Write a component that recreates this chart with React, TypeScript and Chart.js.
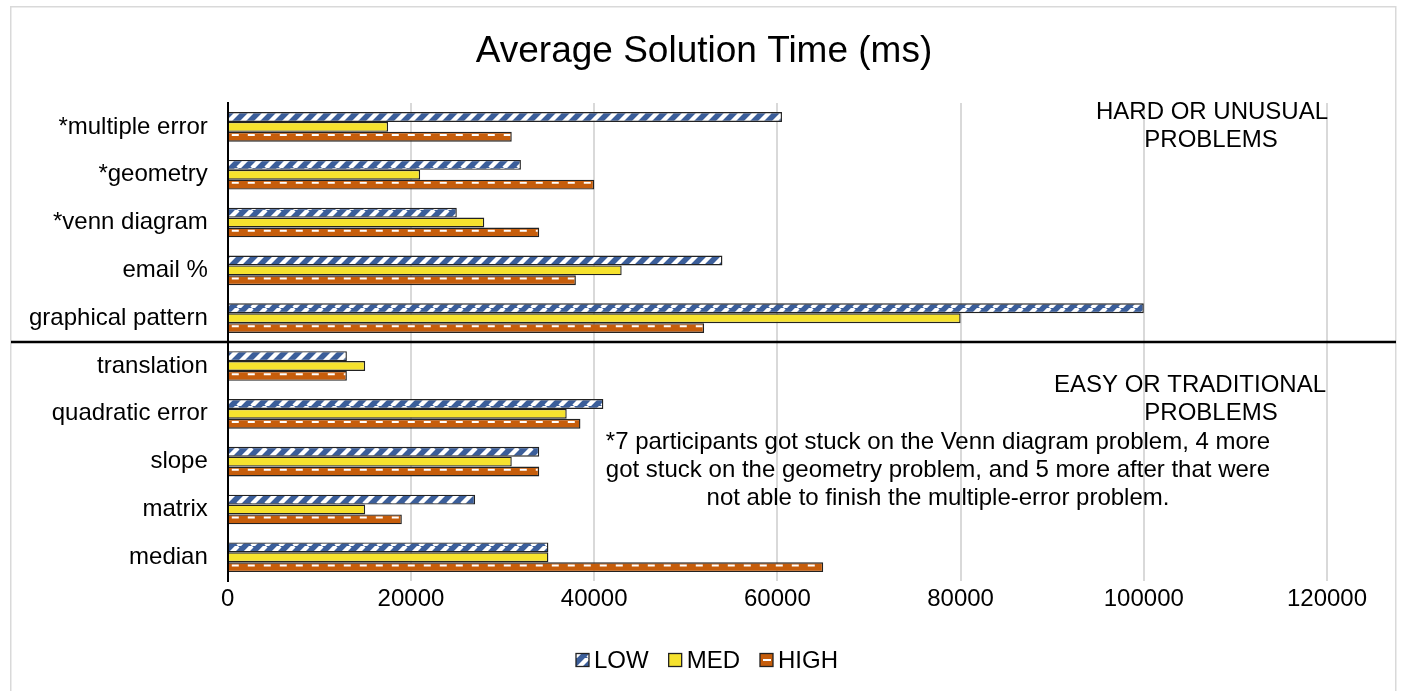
import React, { useEffect, useRef } from 'react';
import { Chart, registerables } from 'chart.js';

Chart.register(...registerables);

const FONT = '"Liberation Sans", Arial, sans-serif';

const categories = [
  '*multiple error',
  '*geometry',
  '*venn diagram',
  'email %',
  'graphical pattern',
  'translation',
  'quadratic error',
  'slope',
  'matrix',
  'median',
];
const seriesNames = ['LOW', 'MED', 'HIGH'];
const lowValues = [60500, 32000, 25000, 54000, 100000, 13000, 41000, 34000, 27000, 35000];
const medValues = [17500, 21000, 28000, 43000, 80000, 15000, 37000, 31000, 15000, 35000];
const highValues = [31000, 40000, 34000, 38000, 52000, 13000, 38500, 34000, 19000, 65000];
const xTickValues = [0, 20000, 40000, 60000, 80000, 100000, 120000];
const xTickLabels = ['0', '20000', '40000', '60000', '80000', '100000', '120000'];

const titleText = 'Average Solution Time (ms)';
const hardLabel = ['HARD OR UNUSUAL', 'PROBLEMS'];
const easyLabel = ['EASY OR TRADITIONAL', 'PROBLEMS'];
const footnote = [
  '*7 participants got stuck on the Venn diagram problem, 4 more',
  'got stuck on the geometry problem, and 5 more after that were',
  'not able to finish the multiple-error problem.',
];

const BLUE = '#3B5E9A';
const YELLOW = '#F6E22E';
const ORANGE = '#C65D0B';
const BORDER = '#222222';

function makeStripePattern(ctx: CanvasRenderingContext2D): CanvasPattern | string {
  const s = 14;
  const c = document.createElement('canvas');
  c.width = s;
  c.height = s;
  const g = c.getContext('2d');
  if (!g) return BLUE;
  g.fillStyle = BLUE;
  g.fillRect(0, 0, s, s);
  g.strokeStyle = '#ffffff';
  g.lineWidth = 4.4;
  g.beginPath();
  for (let k = -1; k <= 1; k++) {
    g.moveTo(k * s, s);
    g.lineTo(k * s + s, 0);
  }
  g.stroke();
  return ctx.createPattern(c, 'repeat') || BLUE;
}

const decorPlugin = {
  id: 'decor',
  afterDatasetsDraw(chart: any) {
    const ctx: CanvasRenderingContext2D = chart.ctx;
    const meta = chart.getDatasetMeta(2);
    ctx.save();
    meta.data.forEach((el: any) => {
      const p = el.getProps(['x', 'y', 'base', 'height'], true);
      const top = p.y - p.height / 2;
      const left = Math.min(p.base, p.x);
      const right = Math.max(p.base, p.x);
      ctx.save();
      ctx.beginPath();
      ctx.rect(left + 1.5, top + 1.5, right - left - 3, p.height - 3);
      ctx.clip();
      ctx.strokeStyle = '#ffffff';
      ctx.lineWidth = 2;
      ctx.setLineDash([7, 9]);
      ctx.beginPath();
      ctx.moveTo(left + 3, top + 3.2);
      ctx.lineTo(right, top + 3.2);
      ctx.stroke();
      ctx.restore();
    });
    ctx.restore();
  },
  afterDraw(chart: any) {
    const ctx: CanvasRenderingContext2D = chart.ctx;
    const yScale = chart.scales.y;
    ctx.save();
    // outer frame
    ctx.strokeStyle = '#d9d9d9';
    ctx.lineWidth = 1.5;
    ctx.strokeRect(10.75, 6.75, 1385, 800);

    // title
    ctx.fillStyle = '#000000';
    ctx.font = `37px ${FONT}`;
    ctx.textAlign = 'center';
    ctx.textBaseline = 'middle';
    ctx.fillText(titleText, 704, 52);

    // separator between hard and easy problems
    const sepY = (yScale.getPixelForValue(4) + yScale.getPixelForValue(5)) / 2;
    ctx.strokeStyle = '#000000';
    ctx.lineWidth = 2.5;
    ctx.beginPath();
    ctx.moveTo(11, sepY);
    ctx.lineTo(1396, sepY);
    ctx.stroke();

    // annotations
    ctx.fillStyle = '#000000';
    ctx.font = `24px ${FONT}`;
    ctx.textBaseline = 'middle';
    ctx.textAlign = 'center';
    ctx.fillText(hardLabel[0], 1212, 112);
    ctx.fillText(hardLabel[1], 1211, 140);
    ctx.fillText(easyLabel[0], 1190, 385);
    ctx.fillText(easyLabel[1], 1211, 413);
    footnote.forEach((line, i) => ctx.fillText(line, 938, 442 + i * 28));

    // legend
    const datasets = chart.data.datasets;
    ctx.textAlign = 'left';
    const widths = datasets.map((ds: any) => 13 + 5 + ctx.measureText(ds.label).width);
    const gap = 20;
    const total = widths.reduce((a: number, b: number) => a + b, 0) + gap * (widths.length - 1);
    let x = 707 - total / 2;
    const cy = 660;
    datasets.forEach((ds: any, i: number) => {
      ctx.fillStyle = ds.backgroundColor;
      ctx.fillRect(x, cy - 6.5, 13, 13);
      if (i === 2) {
        ctx.fillStyle = '#ffffff';
        ctx.fillRect(x + 3, cy - 1, 8, 2);
      }
      ctx.strokeStyle = BORDER;
      ctx.lineWidth = 1.3;
      ctx.strokeRect(x, cy - 6.5, 13, 13);
      ctx.fillStyle = '#000000';
      ctx.fillText(ds.label, x + 18, cy + 1);
      x += widths[i] + gap;
    });
    ctx.restore();
  },
};

export default function App() {
  const canvasRef = useRef<HTMLCanvasElement | null>(null);

  useEffect(() => {
    const canvas = canvasRef.current;
    if (!canvas) return;
    const ctx = canvas.getContext('2d');
    if (!ctx) return;
    const stripe = makeStripePattern(ctx);

    const chart = new Chart(ctx, {
      type: 'bar',
      data: {
        labels: categories,
        datasets: [
          {
            label: seriesNames[0],
            data: lowValues,
            backgroundColor: stripe as any,
            borderColor: BORDER,
            borderWidth: 1.4,
          },
          {
            label: seriesNames[1],
            data: medValues,
            backgroundColor: YELLOW,
            borderColor: BORDER,
            borderWidth: 1.4,
          },
          {
            label: seriesNames[2],
            data: highValues,
            backgroundColor: ORANGE,
            borderColor: BORDER,
            borderWidth: 1.4,
          },
        ],
      },
      options: {
        indexAxis: 'y',
        responsive: false,
        animation: false,
        events: [],
        layout: { padding: { left: 9, right: 75, top: 103, bottom: 73 } },
        datasets: {
          bar: { categoryPercentage: 0.62, barPercentage: 1 },
        },
        plugins: {
          legend: { display: false },
          tooltip: { enabled: false },
          title: { display: false },
        },
        scales: {
          x: {
            type: 'linear',
            min: 0,
            max: 120000,
            afterBuildTicks: (scale: any) => {
              scale.ticks = xTickValues.map((v) => ({ value: v }));
            },
            ticks: {
              color: '#000000',
              font: { family: FONT, size: 24 },
              padding: 4,
              maxRotation: 0,
              autoSkip: false,
              callback: (_v: any, i: number) => xTickLabels[i],
            },
            grid: { color: '#d9d9d9', lineWidth: 2, drawTicks: false },
            border: { display: false },
          },
          y: {
            ticks: {
              color: '#000000',
              font: { family: FONT, size: 24 },
              padding: 20,
              autoSkip: false,
            },
            grid: { display: false, drawTicks: false },
            border: { display: true, color: '#000000', width: 2 },
          },
        },
      },
      plugins: [decorPlugin],
    });

    return () => {
      chart.destroy();
    };
  }, []);

  return (
    <div style={{ position: 'fixed', left: 0, top: 0, width: 1402, height: 691, background: '#ffffff' }}>
      <canvas ref={canvasRef} width={1402} height={691} style={{ display: 'block' }} />
    </div>
  );
}
